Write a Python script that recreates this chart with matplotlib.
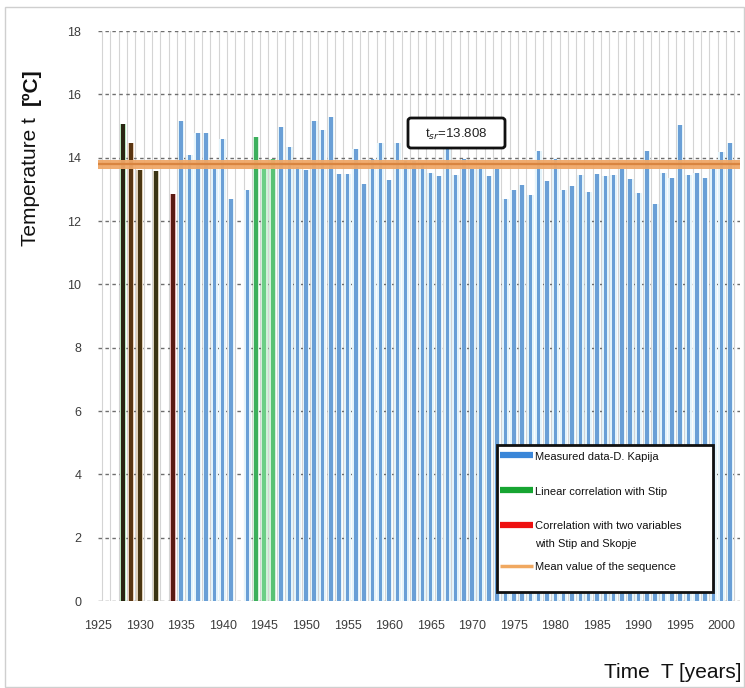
import matplotlib
matplotlib.use("Agg")
import matplotlib.pyplot as plt
from matplotlib.patches import Rectangle, FancyBboxPatch
from matplotlib.lines import Line2D

# ---------------- data ----------------
corr_years = [1928, 1929, 1930, 1932, 1934]
corr_values = [15.06, 14.45, 13.61, 13.58, 12.85]

lin_years = [1944, 1945, 1946]
lin_values = [14.66, 13.64, 13.95]

meas_years = list(range(1935, 1942)) + [1943] + list(range(1947, 2002))
meas_values = [15.17, 14.08, 14.77, 14.77, 13.64, 14.58, 12.68,
               12.98,
               14.96, 14.35, 13.70, 13.60, 15.17, 14.87, 15.27, 13.50, 13.50,
               14.27, 13.18, 13.97, 14.45, 13.29, 14.45, 13.90, 13.90, 13.80,
               13.52, 13.42, 14.35, 13.45, 13.97, 13.65, 13.70, 13.42, 13.65,
               12.71, 12.98, 13.14, 12.82, 14.22, 13.26, 13.97, 12.98, 13.12,
               13.45, 12.92, 13.50, 13.42, 13.45, 13.63, 13.34, 12.90, 14.22,
               12.54, 13.52, 13.37, 15.03, 13.45, 13.52, 13.36, 13.65, 14.19,
               14.45]

mean_value = 13.808
mean_label = "t$_{sr}$=13.808"

x_ticks = list(range(1925, 2001, 5))
y_ticks = list(range(0, 19, 2))

# ---------------- figure ----------------
W, H = 745, 688
fig = plt.figure(figsize=(W / 100, H / 100), dpi=100)
fig.patch.set_facecolor("white")

def fx(px):
    return px / W

def fy(py):
    return 1 - py / H

ax = fig.add_axes([fx(98), fy(601), fx(740) - fx(98), fy(31) - fy(601)])
ax.set_xlim(1925, 2002.2)
ax.set_ylim(0, 18)
ax.set_facecolor("white")

for s in ax.spines.values():
    s.set_visible(False)

# vertical yearly gridlines (between bars)
for yr in range(1925, 2002):
    ax.axvline(yr + 0.5, color="#d4d4d4", lw=0.8, zorder=0)
# horizontal dashed gridlines
for v in y_ticks:
    ax.axhline(v, color="#6e6e6e", lw=1.0, ls=(0, (2.5, 2.5)), zorder=1)

# halos (blurred look)
ax.bar(meas_years, meas_values, width=0.8, color="#e4f4fb", zorder=2, linewidth=0)
ax.bar(lin_years, lin_values, width=0.8, color="#d2f2da", zorder=2, linewidth=0)
corr_halo = ["#b8e8c0", "#e8d0b8", "#e0d0b8", "#d8d0b8", "#e8b8b8"]
ax.bar(corr_years, corr_values, width=0.75, color=corr_halo, zorder=2, linewidth=0)

# main bars
ax.bar(meas_years, meas_values, width=0.42, color="#6a9fd6", zorder=3, linewidth=0)
ax.bar(lin_years, lin_values, width=0.45, color=["#3caf5c", "#6ccf86", "#58c274"],
       zorder=3, linewidth=0)
corr_colors = ["#2a2412", "#5a3612", "#4a3612", "#3a3414", "#5a1a12"]
ax.bar(corr_years, corr_values, width=0.5, color=corr_colors, zorder=3, linewidth=0)

# mean line
ax.axhline(mean_value, color="#f0a868", lw=6.5, zorder=4, alpha=0.95)
ax.axhline(mean_value, color="#d98540", lw=1.6, zorder=4)

ax.set_xticks(x_ticks)
ax.set_yticks(y_ticks)
ax.tick_params(axis="both", length=0, labelsize=9, colors="#3c3c3c")
ax.tick_params(axis="x", pad=14)
ax.tick_params(axis="y", pad=12)
for lab in ax.get_xticklabels() + ax.get_yticklabels():
    lab.set_family(["Liberation Sans", "DejaVu Sans"])

# annotation box
bx0, bx1, by0, by1 = 408, 505, 118, 148
box = FancyBboxPatch((fx(bx0), fy(by1)), fx(bx1) - fx(bx0), fy(by0) - fy(by1),
                     boxstyle="round,pad=0,rounding_size=0.004",
                     transform=fig.transFigure, facecolor="white",
                     edgecolor="#111111", lw=2, zorder=10)
fig.patches.append(box)
fig.text(fx(456), fy(134), mean_label, ha="center", va="center", fontsize=9.5,
         color="#222222", family=["Liberation Sans", "DejaVu Sans"], zorder=11)

# legend (manual)
lx0, lx1, ly0, ly1 = 497, 713, 445, 592
fig.patches.append(Rectangle((fx(lx0), fy(ly1)), fx(lx1) - fx(lx0), fy(ly0) - fy(ly1),
                             transform=fig.transFigure, facecolor="white",
                             edgecolor="#111111", lw=2, zorder=10))
leg_font = ["Liberation Sans Narrow", "Liberation Sans", "DejaVu Sans"]
entries = [
    ("#3a86d8", 4.5, 455, ["Measured data-D. Kapija"], [457]),
    ("#17a532", 4.5, 490, ["Linear correlation with Stip"], [492]),
    ("#ee1010", 4.5, 525, ["Correlation with two variables", "with Stip and Skopje"], [526, 544]),
    ("#f0a860", 2.5, 566, ["Mean value of the sequence"], [567]),
]
for col, lw, yy, texts, tys in entries:
    fig.lines.append(Line2D([fx(500), fx(533)], [fy(yy), fy(yy)], color=col, lw=lw,
                            transform=fig.transFigure, zorder=11,
                            solid_capstyle="butt"))
    for t, ty in zip(texts, tys):
        fig.text(fx(535), fy(ty), t, ha="left", va="center", fontsize=8,
                 color="#111111", family=leg_font, zorder=11)

# axis titles
t1 = fig.text(fx(31), fy(246), "Temperature t", rotation=90, ha="center", va="bottom",
              fontsize=15, color="#111111", family=["Liberation Sans", "DejaVu Sans"])
fig.canvas.draw()
bb = t1.get_window_extent(fig.canvas.get_renderer())
top_px = H - bb.y1  # pixel row (from top) where first part ends
fig.text(fx(31), fy(top_px - 12), "[ºC]", rotation=90, ha="center", va="bottom",
         fontsize=15, fontweight="bold", color="#111111",
         family=["Liberation Sans", "DejaVu Sans"])
fig.text(fx(741), fy(672), "Time  T [years]", ha="right", va="center",
         fontsize=15, color="#111111", family=["Liberation Sans", "DejaVu Sans"])

# outer frame
fig.patches.append(Rectangle((fx(5), fy(687)), fx(744) - fx(5), fy(7) - fy(687),
                             transform=fig.transFigure, facecolor="none",
                             edgecolor="#cfcfcf", lw=1, zorder=0))

fig.savefig("out.png", dpi=100)
